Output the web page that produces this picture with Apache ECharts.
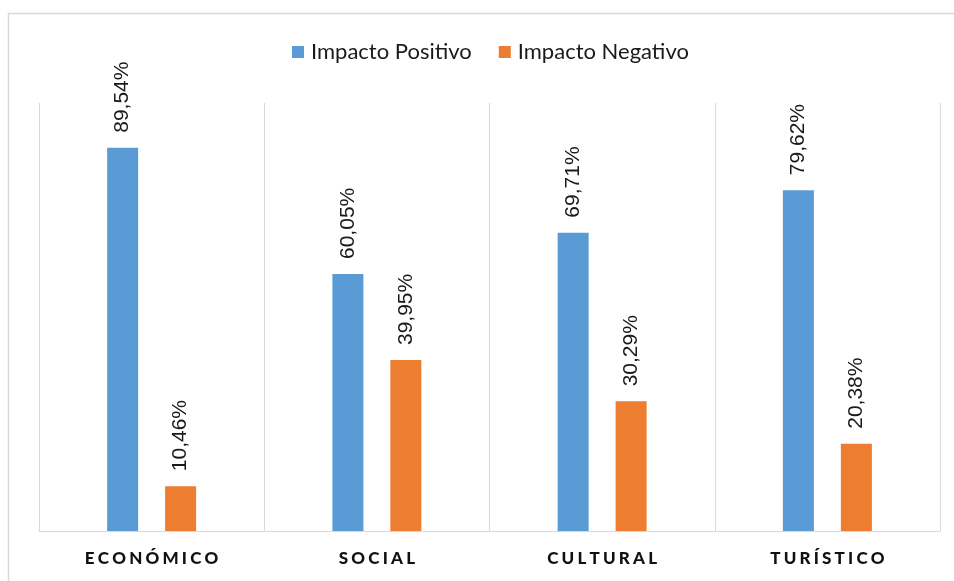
<!DOCTYPE html>
<html>
<head>
<meta charset="utf-8">
<script src="https://cdn.jsdelivr.net/npm/echarts@6/dist/echarts.min.js"></script>
<style>
html,body{margin:0;padding:0;background:#fff;}
#chart{width:954px;height:581px;}
</style>
</head>
<body>
<div id="chart"></div>
<script>
const categories = ['ECONÓMICO', 'SOCIAL', 'CULTURAL', 'TURÍSTICO'];
const seriesNames = ['Impacto Positivo', 'Impacto Negativo'];
const positivo = [89.54, 60.05, 69.71, 79.62];
const negativo = [10.46, 39.95, 30.29, 20.38];

const chart = echarts.init(document.getElementById('chart'), null, {renderer: 'canvas'});
const labelCfg = {
  show: true,
  position: 'top',
  rotate: 90,
  align: 'left',
  verticalAlign: 'middle',
  distance: 15,
  fontFamily: 'Liberation Sans',
  fontSize: 21,
  color: '#1a1a1a',
  formatter: p => p.value.toFixed(2).replace('.', ',') + '%'
};
chart.setOption({
  animation: false,
  graphic: [{
    type: 'rect',
    shape: {x: 8.5, y: 13.5, width: 1000, height: 1000},
    style: {fill: 'none', stroke: '#D9D9D9', lineWidth: 1.5},
    silent: true
  }],
  legend: {
    top: 36,
    left: 287,
    itemWidth: 12,
    itemHeight: 12,
    itemGap: 27,
    icon: 'rect',
    textStyle: {fontFamily: 'Lato', fontSize: 22, color: '#1a1a1a', padding: [0,0,0,2]},
    data: seriesNames
  },
  grid: {left: 39, right: 14, top: 103, bottom: 50, containLabel: false},
  xAxis: {
    type: 'category',
    data: categories,
    axisLine: {lineStyle: {color: '#D9D9D9', width: 1}},
    axisTick: {show: false},
    splitLine: {show: true, lineStyle: {color: '#D9D9D9', width: 1}},
    axisLabel: {
      margin: 19,
      fontFamily: 'Lato',
      fontWeight: 900,
      fontSize: 17,
      color: '#111',
      formatter: v => v.split('').join('\u2009\u200A')
    }
  },
  yAxis: {
    type: 'value',
    min: 0,
    max: 100,
    show: false,
    splitLine: {show: false}
  },
  series: [
    {
      name: seriesNames[0],
      type: 'bar',
      data: positivo,
      barWidth: 31,
      barGap: '87%',
      itemStyle: {color: '#5B9BD5'},
      label: labelCfg
    },
    {
      name: seriesNames[1],
      type: 'bar',
      data: negativo,
      barWidth: 31,
      itemStyle: {color: '#ED7D31'},
      label: labelCfg
    }
  ]
});
</script>
</body>
</html>
